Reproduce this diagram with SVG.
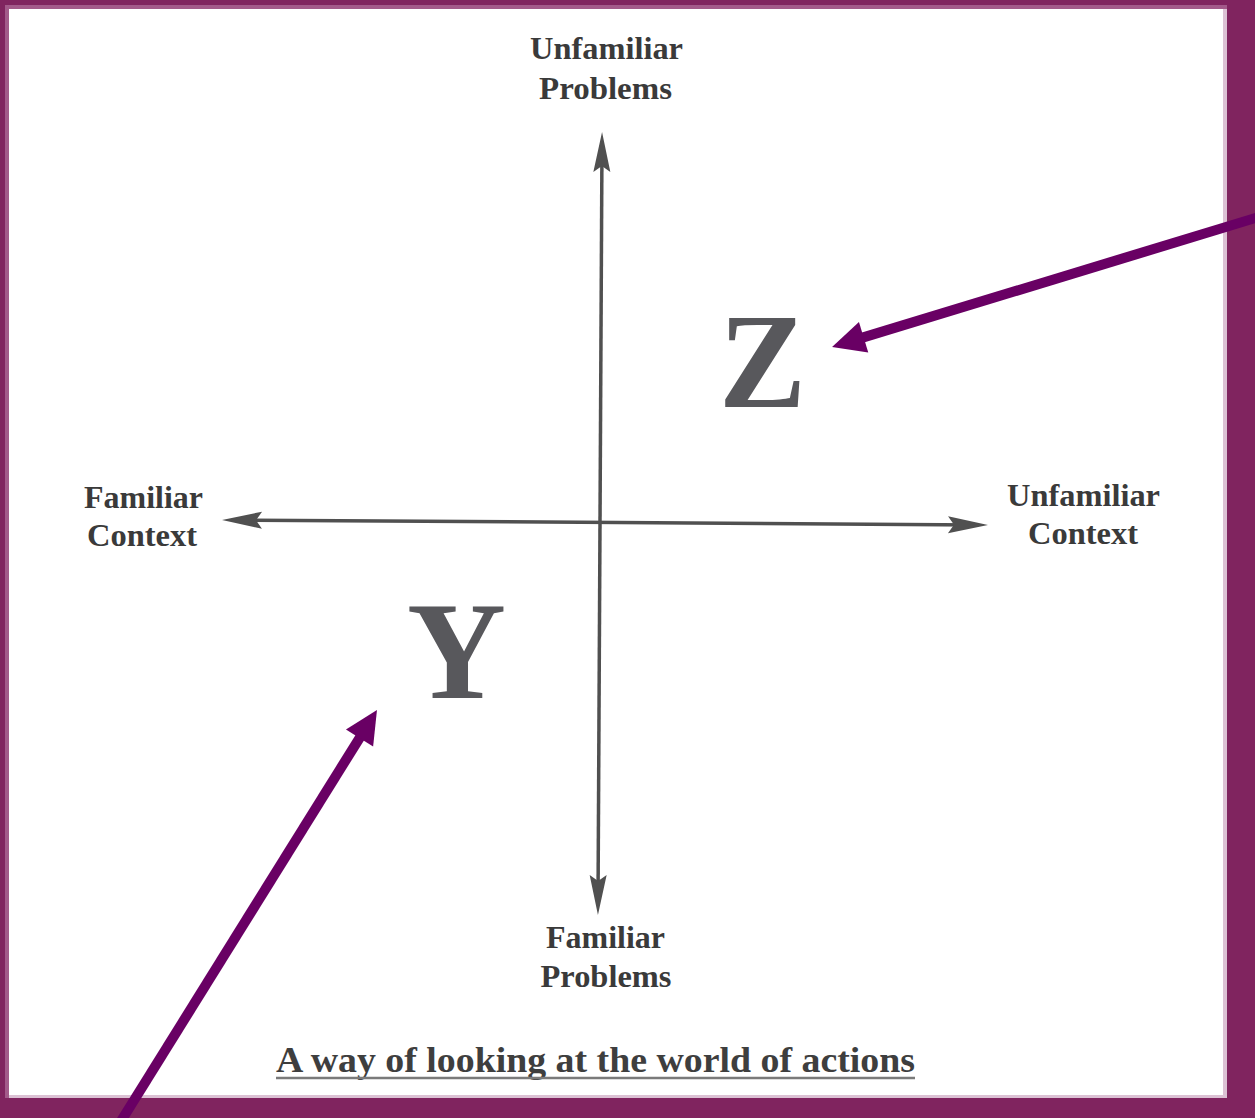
<svg xmlns="http://www.w3.org/2000/svg" width="1255" height="1118" viewBox="0 0 1255 1118">
  <style>
    .lbl { font-family: "Liberation Serif", "Times New Roman", serif; font-weight: bold; font-size: 32px; fill: #3a3a3a; text-anchor: middle; }
    .big { font-family: "Liberation Serif", "Times New Roman", serif; font-weight: bold; fill: #58585c; }
    .cap { font-family: "Liberation Serif", "Times New Roman", serif; font-weight: bold; font-size: 35px; fill: #3e3e3e; }
    .axis { stroke: #505050; stroke-width: 3.5; fill: none; }
    .ptr { stroke: #690064; stroke-width: 10; fill: none; }
  </style>
  <defs>
    <marker id="axhead" markerUnits="userSpaceOnUse" viewBox="-34 -10 46 20" markerWidth="46" markerHeight="20" refX="0" refY="0" orient="auto-start-reverse" overflow="visible">
      <path d="M10,0 L-30,-8.5 L-24,0 L-30,8.5 Z" fill="#505050"/>
    </marker>
    <marker id="phead" markerUnits="userSpaceOnUse" viewBox="-4 -18 40 36" markerWidth="40" markerHeight="36" refX="0" refY="0" orient="auto" overflow="visible">
      <path d="M-2,-16 L31,0 L-2,16 Z" fill="#690064"/>
    </marker>
  </defs>

  <!-- frame -->
  <rect x="0" y="0" width="1255" height="1118" fill="#80245f"/>
  <rect x="5" y="5" width="1222" height="1093" fill="#a35a8a"/>
  <rect x="9" y="9" width="1218" height="1089" fill="#dcc1d4"/>
  <rect x="9" y="9" width="1214" height="1086" fill="#ffffff"/>

  <g id="label-top">
    <text class="lbl" x="606.5" y="59" textLength="153" lengthAdjust="spacingAndGlyphs">Unfamiliar</text>
    <text class="lbl" x="605.5" y="99" textLength="133" lengthAdjust="spacingAndGlyphs">Problems</text>
  </g>
  <g id="label-left">
    <text class="lbl" x="143.5" y="508" textLength="119" lengthAdjust="spacingAndGlyphs">Familiar</text>
    <text class="lbl" x="142" y="546" textLength="110" lengthAdjust="spacingAndGlyphs">Context</text>
  </g>
  <g id="label-right">
    <text class="lbl" x="1083.5" y="506" textLength="153" lengthAdjust="spacingAndGlyphs">Unfamiliar</text>
    <text class="lbl" x="1083" y="544" textLength="110" lengthAdjust="spacingAndGlyphs">Context</text>
  </g>
  <g id="label-bottom">
    <text class="lbl" x="605.5" y="948" textLength="119" lengthAdjust="spacingAndGlyphs">Familiar</text>
    <text class="lbl" x="606" y="987" textLength="131" lengthAdjust="spacingAndGlyphs">Problems</text>
  </g>
  <g id="node-z">
    <text class="big" x="719" y="407" font-size="136" textLength="87" lengthAdjust="spacingAndGlyphs">Z</text>
  </g>
  <g id="node-y">
    <text class="big" x="407" y="698" font-size="140" textLength="99" lengthAdjust="spacingAndGlyphs">Y</text>
  </g>
  <g id="caption">
    <text class="cap" x="276" y="1072" textLength="639" lengthAdjust="spacingAndGlyphs">A way of looking at the world of actions</text>
    <line x1="276" y1="1078" x2="915" y2="1078" stroke="#7a7a7a" stroke-width="2.5"/>
  </g>

  <g id="connectors">
    <line class="axis" x1="598" y1="905" x2="602" y2="142" marker-start="url(#axhead)" marker-end="url(#axhead)"/>
    <line class="axis" x1="232" y1="520" x2="978" y2="525" marker-start="url(#axhead)" marker-end="url(#axhead)"/>
    <line class="ptr" x1="1262" y1="216" x2="861.7" y2="337.9" marker-end="url(#phead)"/>
    <line class="ptr" x1="118" y1="1126" x2="360.6" y2="736.3" marker-end="url(#phead)"/>
  </g>
</svg>
